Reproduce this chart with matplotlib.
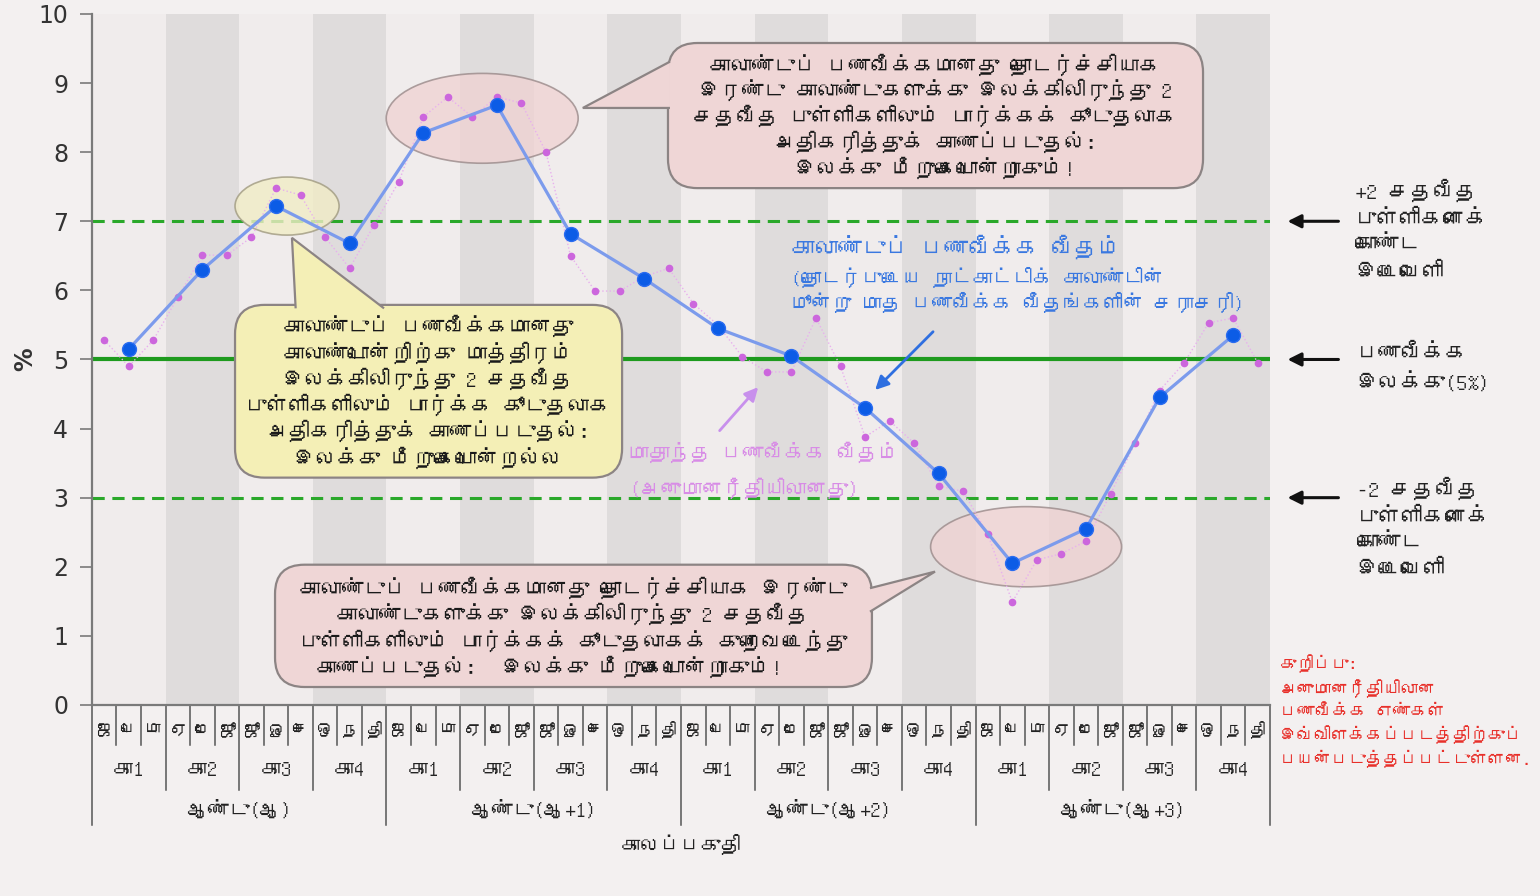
import matplotlib
matplotlib.use('Agg')
import matplotlib.pyplot as plt
import matplotlib.transforms as mtransforms
from matplotlib import font_manager
from matplotlib.patches import FancyBboxPatch, Ellipse, Polygon
from fontTools.ttLib import TTFont


def find_tamil_font():
    # look for any installed font that has Tamil glyphs
    seen = set()
    for f in font_manager.fontManager.ttflist:
        if f.fname in seen:
            continue
        seen.add(f.fname)
        try:
            cmap = TTFont(f.fname, fontNumber=0, lazy=True).getBestCmap()
        except Exception:
            continue
        if cmap and 0x0B95 in cmap:
            return f.name
    return None


tamil = find_tamil_font()
if tamil:
    plt.rcParams['font.family'] = [tamil, 'DejaVu Sans']
else:
    plt.rcParams['font.family'] = ['DejaVu Sans']

# ---- data ----
month_names = ['ஜ', 'பெ', 'மா', 'ஏ', 'மே', 'ஜூ', 'ஜூ', 'ஓ', 'செ', 'ஒ', 'ந', 'தி']
quarter_names = ['கா1', 'கா2', 'கா3', 'கா4']
year_names = ['ஆண்டு(ஆ)', 'ஆண்டு(ஆ+1)', 'ஆண்டு(ஆ+2)', 'ஆண்டு(ஆ+3)']

monthly = [5.28, 4.90, 5.28, 5.90, 6.51, 6.51, 6.77, 7.48, 7.38, 6.77, 6.32, 6.95,
           7.57, 8.51, 8.80, 8.51, 8.80, 8.71, 8.00, 6.50, 5.99, 5.99, 6.20, 6.32,
           5.81, 5.50, 5.04, 4.82, 4.82, 5.60, 4.90, 3.88, 4.11, 3.79, 3.17, 3.09,
           2.47, 1.49, 2.10, 2.19, 2.37, 3.05, 3.79, 4.55, 4.95, 5.53, 5.60, 4.95]
quarterly = [5.15, 6.30, 7.22, 6.68, 8.28, 8.68, 6.82, 6.17,
             5.45, 5.05, 4.30, 3.35, 2.05, 2.55, 4.45, 5.35]

target = 5
upper_band = 7
lower_band = 3

n_months = len(monthly)
month_x = [i + 0.5 for i in range(n_months)]
quarter_x = [3 * q + 1.5 for q in range(len(quarterly))]

# ---- figure ----
fig = plt.figure(figsize=(15.4, 8.96), dpi=100, facecolor='#f3f0f0')
ax = fig.add_axes([0.0597, 0.2132, 0.765, 0.7712])
ax.set_facecolor('#f0ecec')
ax.set_xlim(0, n_months)
ax.set_ylim(0, 10)

for q in range(len(quarterly)):
    if q % 2 == 1:
        ax.axvspan(3 * q, 3 * q + 3, color='#dfdcdc', zorder=0, lw=0)

ax.axhline(target, color='#1e9a1e', lw=3, zorder=2)
ax.axhline(upper_band, color='#2aa82a', lw=2.2, ls=(0, (4, 2.5)), zorder=2)
ax.axhline(lower_band, color='#2aa82a', lw=2.2, ls=(0, (4, 2.5)), zorder=2)

# ellipses highlighting points
ax.add_patch(Ellipse((7.95, 7.22), 4.24, 0.84, facecolor='#f1ecc6', edgecolor='#a09a80',
                     lw=1.2, alpha=0.8, zorder=3))
ax.add_patch(Ellipse((15.9, 8.49), 7.82, 1.30, facecolor='#efd3d3', edgecolor='#9a8a8a',
                     lw=1.2, alpha=0.8, zorder=3))
ax.add_patch(Ellipse((38.06, 2.29), 7.78, 1.16, facecolor='#efd3d3', edgecolor='#9a8a8a',
                     lw=1.2, alpha=0.8, zorder=3))

ax.plot(month_x, monthly, color='#e8b0ee', lw=1, ls=':', marker='o', ms=4.5,
        mfc='#cc66dd', mec='#cc66dd', zorder=4)
ax.plot(quarter_x, quarterly, color='#7c9bec', lw=2.3, marker='o', ms=10,
        mfc='#0c5ce6', mec='#2a6cf0', zorder=5)


# ---- callout boxes ----
def callout(x0, y0, w, h, pointer, fc):
    box = FancyBboxPatch((x0, y0), w, h, boxstyle='round,pad=0,rounding_size=1.2',
                         mutation_aspect=0.35, facecolor=fc, edgecolor='#8c8484',
                         lw=1.6, zorder=6)
    ax.add_patch(box)
    ax.add_patch(Polygon(pointer, closed=False, facecolor=fc, edgecolor='#8c8484',
                         lw=1.6, zorder=6.5))


callout(5.83, 3.29, 15.77, 2.50, [(8.3, 5.74), (8.15, 6.76), (11.9, 5.74)], '#f4efb6')
callout(23.47, 7.48, 21.8, 2.10, [(23.55, 9.31), (20.0, 8.64), (23.55, 8.64)], '#efd6d6')
callout(7.46, 0.26, 24.32, 1.77, [(31.7, 1.69), (34.35, 1.93), (31.7, 1.35)], '#efd6d6')

box_kw = dict(ha='center', va='center', fontsize=15.5, color='#1a1a1a', zorder=7)
yellow_lines = ['காலாண்டுப் பணவீக்கமானது', 'காலாண்டொன்றிற்கு மாத்திரம்',
                'இலக்கிலிருந்து 2 சதவீத', 'புள்ளிகளிலும் பார்க்க கூடுதலாக',
                'அதிகரித்துக் காணப்படுதல்:']
for k, line in enumerate(yellow_lines):
    ax.text(13.7, 5.48 - k * 0.38, line, **box_kw)
ax.text(13.7, 5.48 - 5 * 0.38, 'இலக்கு மீறுகையொன்றல்ல', fontweight='bold', **box_kw)

top_lines = ['காலாண்டுப் பணவீக்கமானது தொடர்ச்சியாக',
             'இரண்டு காலாண்டுகளுக்கு இலக்கிலிருந்து 2',
             'சதவீத புள்ளிகளிலும் பார்க்கக் கூடுதலாக',
             'அதிகரித்துக் காணப்படுதல்:']
for k, line in enumerate(top_lines):
    ax.text(34.35, 9.27 - k * 0.375, line, **box_kw)
ax.text(34.35, 9.27 - 4 * 0.375, 'இலக்கு மீறுகையொன்றாகும்!', fontweight='bold', **box_kw)

bottom_lines = ['காலாண்டுப் பணவீக்கமானது தொடர்ச்சியாக இரண்டு',
                'காலாண்டுகளுக்கு இலக்கிலிருந்து 2 சதவீத',
                'புள்ளிகளிலும் பார்க்கக் கூடுதலாகக் குறைவடைந்து']
for k, line in enumerate(bottom_lines):
    ax.text(19.6, 1.70 - k * 0.385, line, **box_kw)
ax.text(12.4, 1.70 - 3 * 0.385, 'காணப்படுதல்:', **box_kw)
ax.text(22.4, 1.70 - 3 * 0.385, 'இலக்கு மீறுகையொன்றாகும்!', fontweight='bold', **box_kw)

# ---- series labels ----
ax.text(28.5, 6.63, 'காலாண்டுப் பணவீக்க வீதம்', color='#3a78e0', fontsize=17,
        ha='left', va='center', zorder=7)
ax.text(28.5, 6.19, '(தொடர்புடைய நாட்காட்டிக் காலாண்டின்', color='#3a78e0',
        fontsize=14.5, style='italic', ha='left', va='center', zorder=7)
ax.text(28.5, 5.83, 'மூன்று மாத பணவீக்க வீதங்களின் சராசரி)', color='#3a78e0',
        fontsize=14.5, style='italic', ha='left', va='center', zorder=7)
ax.annotate('', xy=(31.83, 4.53), xytext=(34.35, 5.43), zorder=7,
            arrowprops=dict(arrowstyle='-|>', color='#2f6fe0', lw=2, mutation_scale=20))

ax.text(21.85, 3.66, 'மாதாந்த பணவீக்க வீதம்', color='#d88ce6', fontsize=15,
        ha='left', va='center', zorder=7)
ax.text(21.9, 3.14, '(அனுமானரீதியிலானது)', color='#d88ce6', fontsize=15,
        ha='left', va='center', zorder=7)
ax.annotate('', xy=(27.22, 4.63), xytext=(25.5, 3.94), zorder=7,
            arrowprops=dict(arrowstyle='-|>', color='#c890ec', lw=2, mutation_scale=20))

# ---- right side notes ----
for yv in [upper_band, target, lower_band]:
    ax.annotate('', xy=(48.6, yv), xytext=(50.9, yv), annotation_clip=False,
                arrowprops=dict(arrowstyle='-|>', color='#111111', lw=2.2,
                                mutation_scale=20))
note_kw = dict(fontsize=16, color='#222222', ha='left', va='top', linespacing=1.55)
fig.text(0.880, 0.800, '+2 சதவீத\nபுள்ளிகளைக்\nகொண்ட\nஇடைவெளி', **note_kw)
fig.text(0.881, 0.615, 'பணவீக்க\nஇலக்கு(5%)', **note_kw)
fig.text(0.881, 0.468, '-2 சதவீத\nபுள்ளிகளைக்\nகொண்ட\nஇடைவெளி', **note_kw)
fig.text(0.831, 0.270, 'குறிப்பு:\nஅனுமானரீதியிலான\nபணவீக்க எண்கள்\n'
         'இவ்விளக்கப்படத்திற்குப்\nபயன்படுத்தப்பட்டுள்ளன.',
         fontsize=12.5, color='#e8302a', style='italic', fontweight='bold',
         ha='left', va='top', linespacing=1.4)

# ---- axes styling ----
for s in ['top', 'right']:
    ax.spines[s].set_visible(False)
ax.spines['left'].set_color('#7a7a7a')
ax.spines['left'].set_linewidth(1.6)
ax.spines['bottom'].set_color('#7a7a7a')
ax.spines['bottom'].set_linewidth(1.6)
ax.set_yticks(range(11))
ax.tick_params(axis='y', labelsize=17, colors='#7a7a7a', labelcolor='#333333',
               length=9, width=1.2, pad=8)
for lab in ax.get_yticklabels():
    lab.set_fontfamily('DejaVu Sans')
ax.set_xticks([])
ax.set_ylabel('%', fontsize=17, fontweight='bold', color='#333333',
              fontfamily='DejaVu Sans')
ax.yaxis.set_label_coords(-0.046, 0.5)

# hierarchical category axis
trans = mtransforms.blended_transform_factory(ax.transData, ax.transAxes)
for i in range(n_months + 1):
    if i % 12 == 0:
        yb = -0.174
    elif i % 3 == 0:
        yb = -0.123
    else:
        yb = -0.058
    ax.plot([i, i], [0, yb], transform=trans, color='#555555', lw=1.1, clip_on=False)

for i in range(n_months):
    ax.text(i + 0.5, -0.037, month_names[i % 12], transform=trans, ha='center',
            va='center', fontsize=12, color='#222222')
for q in range(n_months // 3):
    ax.text(3 * q + 1.5, -0.094, quarter_names[q % 4], transform=trans, ha='center',
            va='center', fontsize=15, color='#222222')
for y in range(len(year_names)):
    ax.text(12 * y + 6, -0.152, year_names[y], transform=trans, ha='center',
            va='center', fontsize=15, color='#222222')
ax.text(24, -0.2026, 'காலப்பகுதி', transform=trans, ha='center', va='center',
        fontsize=14.5, fontweight='bold', color='#222222')

fig.savefig('out.png', dpi=100, facecolor=fig.get_facecolor())
